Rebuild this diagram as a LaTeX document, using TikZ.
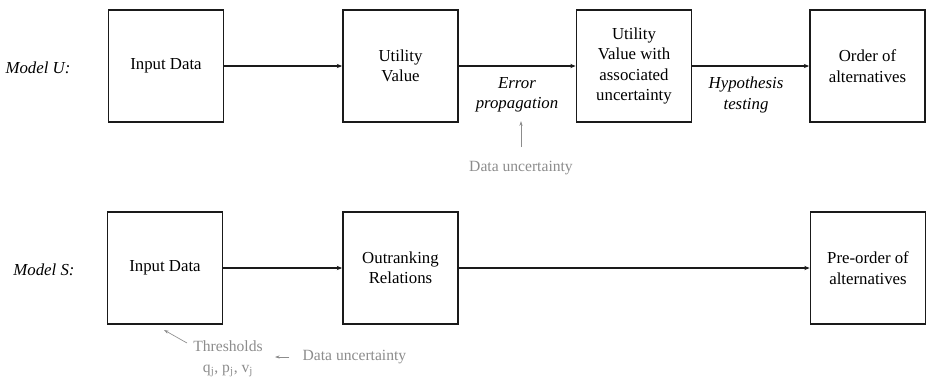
\documentclass[tikz,border=0pt]{standalone}
\usepackage{fontspec}
\setmainfont{Liberation Serif}
\usetikzlibrary{arrows.meta}

\begin{document}
\begin{tikzpicture}[x=0.75pt,y=-0.75pt,font=\fontsize{12.6}{15.3}\selectfont]

\definecolor{flowink}{HTML}{1A1A1A}
\definecolor{flowgrey}{HTML}{8C8C8C}

\tikzset{
  stagebox/.style={
    draw=flowink, line width=1.1pt, align=center,
    minimum width=86.5pt, minimum height=84pt, inner sep=2pt
  },
  flowedge/.style={
    draw=flowink, line width=0.9pt, -{Stealth[length=4pt,width=3.2pt]}
  },
  noteedge/.style={
    draw=flowgrey, line width=0.5pt, -{Stealth[length=3.5pt,width=2.4pt]}
  },
  modellabel/.style={font=\fontsize{12.6}{15.3}\selectfont\itshape},
  steplabel/.style={align=center, font=\fontsize{12.6}{15.3}\selectfont\itshape},
  notelabel/.style={text=flowgrey, align=center, font=\fontsize{11.7}{15.6}\selectfont}
}

\useasboundingbox (0,0) rectangle (928,376);

% Model U: utility value with error propagation.
\node[modellabel] (mu) at (38,68) {Model U:};
\node[stagebox] (inu) at (166,66)   {Input Data};
\node[stagebox] (uv)  at (400.5,66) {Utility\\Value};
\node[stagebox] (uvu) at (634,66)   {Utility\\Value with\\associated\\uncertainty};
\node[stagebox] (ord) at (867.5,66) {Order of\\alternatives};

\node[steplabel] (err) at (517,95) {Error\\propagation};
\node[steplabel] (hyp) at (746,95) {Hypothesis\\testing};
\node[notelabel] (duu) at (521,168) {Data uncertainty};

% Model S: outranking relations.
\node[modellabel] (ms) at (44,270) {Model S:};
\node[stagebox] (ins) at (165,268) {Input Data};
\node[stagebox] (out) at (400.5,268) {Outranking\\Relations};
\node[stagebox] (pre) at (868,268) {Pre-order of\\alternatives};

\node[notelabel] (thr) at (228,359) {Thresholds\\q\textsubscript{j}, p\textsubscript{j}, v\textsubscript{j}};
\node[notelabel, anchor=west] (dus) at (298,357) {Data uncertainty};
\coordinate (thrtail) at (187,343);
\coordinate (thrhead) at (164,330);
\coordinate (dushead) at (275,357);

% Main flow along both rows.
\foreach \from/\to in {inu/uv,uv/uvu,uvu/ord,ins/out,out/pre}
  \draw[flowedge] (\from) -- (\to);

% Where the uncertainty enters.
\draw[noteedge] ([yshift=7pt]duu.north) -- ([yshift=-3pt]err.south -| duu.north);
\draw[noteedge, shorten <=6.5pt] (dus.west) -- (dushead);
\draw[noteedge] (thrtail) -- (thrhead);

\end{tikzpicture}
\end{document}
